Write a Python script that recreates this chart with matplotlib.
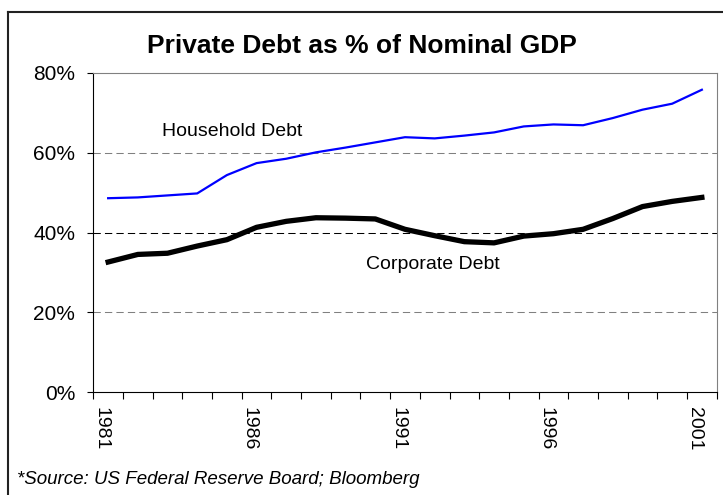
import matplotlib
matplotlib.use("Agg")
import matplotlib.pyplot as plt
from matplotlib.lines import Line2D
import numpy as np

plt.rcParams['font.family'] = ['Liberation Sans', 'DejaVu Sans']

years = list(range(1981, 2002))
household = [48.6, 48.8, 49.3, 49.8, 54.4, 57.4, 58.5, 60.1, 61.3, 62.6, 63.9,
             63.6, 64.3, 65.1, 66.6, 67.1, 66.9, 68.7, 70.8, 72.3, 75.8]
corporate = [32.6, 34.5, 34.8, 36.6, 38.2, 41.3, 42.8, 43.7, 43.6, 43.4, 40.8,
             39.2, 37.7, 37.4, 39.1, 39.7, 40.8, 43.5, 46.5, 47.8, 48.8]
label_years = [1981, 1986, 1991, 1996, 2001]
y_ticks = [0, 20, 40, 60, 80]

fig = plt.figure(figsize=(7.23, 4.95), dpi=100)
ax = fig.add_axes([93.3/723, 103/495, (716.7-93.3)/723, (392-73)/495])

x = np.arange(len(years)) + 0.5

# grid lines
for g in [20, 40, 60]:
    col = 'black' if g == 40 else '#808080'
    ax.axhline(g, color=col, lw=0.75, linestyle=(0, (7, 4)), zorder=1)

ax.plot(x, household, color='#0000FF', lw=1.6, zorder=3)
ax.plot(x, corporate, color='black', lw=3.8, zorder=3)

ax.text(2.3, 65.4, 'Household Debt', fontsize=14, ha='left', va='center')
ax.text(9.2, 32.1, 'Corporate Debt', fontsize=14, ha='left', va='center')

ax.set_xlim(0, len(years))
ax.set_ylim(0, 80)
ax.set_yticks(y_ticks)
ax.set_yticklabels([f'{v}%' for v in y_ticks], fontsize=15)
ax.set_xticks(np.arange(len(years) + 1))
ax.set_xticklabels([])
# year labels sit a little left of the category centre, as in the original
ax.set_xticks([x[years.index(y)] - 0.25 for y in label_years], minor=True)
ax.set_xticklabels([str(y) for y in label_years], minor=True,
                   rotation=270, fontsize=14, va='top', ha='center')
ax.tick_params(axis='x', which='major', length=5, width=0.8, direction='out')
ax.tick_params(axis='x', which='minor', length=0, pad=11)
ax.tick_params(axis='y', length=4, width=0.8, direction='out', pad=9)

for s in ['top', 'right']:
    ax.spines[s].set_color('#808080')
for s in ['left', 'bottom']:
    ax.spines[s].set_color('black')

fig.text(0.5, 1 - 46/495, 'Private Debt as % of Nominal GDP', fontsize=19,
         fontweight='bold', ha='center', va='center')
fig.text(17/723, 1 - 480/495, '*Source: US Federal Reserve Board; Bloomberg',
         fontsize=13.5, style='italic', ha='left', va='center')

# outer chart border (cropped at right and bottom)
fig.add_artist(Line2D([8/723, 8/723], [0, 1 - 12/495], color='#222222', lw=1.5,
                      transform=fig.transFigure))
fig.add_artist(Line2D([8/723, 1], [1 - 12/495, 1 - 12/495], color='#222222', lw=1.5,
                      transform=fig.transFigure))

fig.savefig('out.png', dpi=100)
